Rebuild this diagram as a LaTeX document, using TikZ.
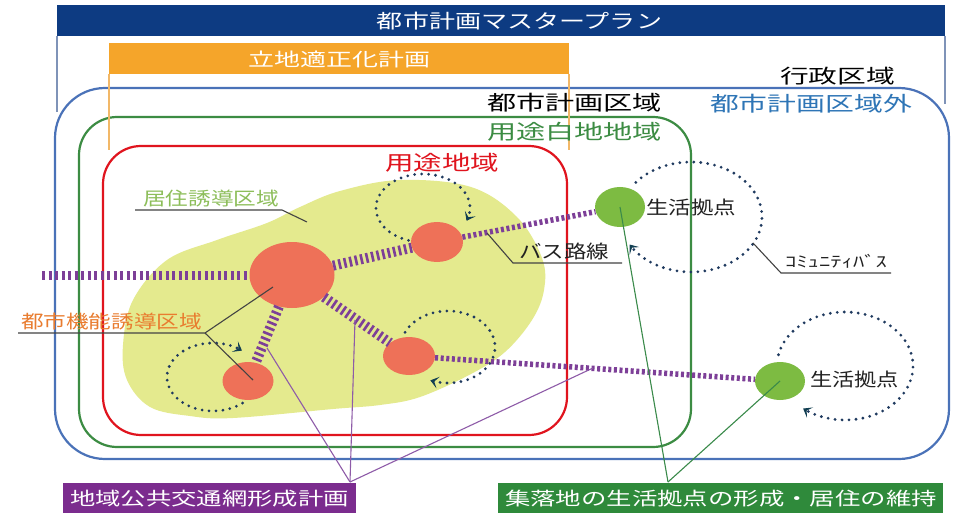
\documentclass[tikz,border=0pt]{standalone}
\usepackage{fontspec}
\usepackage{graphicx}
\newfontfamily\jp{Noto Sans CJK JP}
\usetikzlibrary{shapes.geometric,arrows.meta}
\definecolor{navybar}{HTML}{0D3B82}
\definecolor{orangebar}{HTML}{F5A52A}
\definecolor{orangeline}{HTML}{F2B868}
\definecolor{framecol}{HTML}{7F93B8}
\definecolor{bluerect}{HTML}{4A72B8}
\definecolor{greenrect}{HTML}{3C8C43}
\definecolor{redrect}{HTML}{E0141E}
\definecolor{blobcol}{HTML}{E4EA8E}
\definecolor{hubcol}{HTML}{EE7158}
\definecolor{basecol}{HTML}{7DBB42}
\definecolor{buscol}{HTML}{7D3F98}
\definecolor{dotcol}{HTML}{1F3A5F}
\definecolor{arrcol}{HTML}{123F52}
\definecolor{purplebox}{HTML}{7B2C8E}
\definecolor{greenbox}{HTML}{2F8A3B}
\definecolor{purpleleader}{HTML}{8E5BA8}
\definecolor{greenleader}{HTML}{3A8A4A}
\definecolor{outblue}{HTML}{2E75B6}
\definecolor{livegreen}{HTML}{8DBE5A}
\definecolor{funcorange}{HTML}{E97C2F}
\definecolor{darktext}{HTML}{222222}
\newcommand{\fitt}[3]{\resizebox*{#1}{#2}{\jp #3}}
\begin{document}
\begin{tikzpicture}[x=1pt,y=-1pt,
  hub/.style={ellipse, fill=hubcol, inner sep=0pt, draw=none},
  base/.style={ellipse, fill=basecol, inner sep=0pt, draw=none},
  txt/.style={inner sep=0pt},
  area/.style={line width=2.2pt},
  busA/.style={draw=buscol, line width=9pt, dash pattern=on 3.2pt off 3.3pt},
  busB/.style={draw=buscol, line width=10pt, dash pattern=on 2.6pt off 3pt},
  busC/.style={draw=buscol, line width=5.5pt, dash pattern=on 3pt off 2.6pt},
  dotarc/.style={draw=dotcol, line width=3.1pt, line cap=round, dash pattern=on 0pt off 7pt,
    -{Stealth[length=8pt,width=12pt,inset=4pt,color=arrcol,line cap=butt]}},
  leader/.style={draw=darktext!85, line width=1.1pt},
  pleader/.style={draw=purpleleader, line width=1.1pt},
  gleader/.style={draw=greenleader, line width=1.1pt}]
\useasboundingbox (0,0) rectangle (953,513);
\fill[white] (0,0) rectangle (953,513);

% top bars
\fill[navybar] (57,5) rectangle (945,36);
\node[txt, text=white] (master) at (519.5,21) {\fitt{285pt}{18pt}{都市計画マスタープラン}};
\draw[framecol, line width=1.2pt] (57,36) -- (57,112);
\draw[framecol, line width=1.2pt] (945,36) -- (945,104);

% areas
\draw[bluerect, area, rounded corners=50pt] (55,88) rectangle (949,459);
\draw[greenrect, area, rounded corners=38pt] (79,117) rectangle (691,447);
\draw[redrect, area, rounded corners=38pt] (103,146) rectangle (567,435);

\fill[orangebar] (109,43) rectangle (569,74);
\node[txt, text=white] (ritchi) at (339,59) {\fitt{182pt}{17pt}{立地適正化計画}};
\draw[orangeline, line width=1.2pt] (109,74) -- (109,150);
\draw[orangeline, line width=1.2pt] (569,74) -- (569,150);

% blob
\fill[blobcol] plot[smooth cycle, tension=0.6] coordinates {
 (123,345) (133,300) (167,260) (217,240) (267,223) (300,207) (340,191) (400,180)
 (471,187) (517,217) (542,258) (544,290) (532,320) (505,352) (471,374) (420,397)
 (380,405) (333,409) (233,418) (190,416) (150,407) (127,380)};

% dotted circulation arcs
\draw[dotarc] plot[domain=108:382, samples=90] ({423+47*cos(\x)},{208+34*sin(\x)});
\draw[dotarc] plot[domain=50:309, samples=90] ({213+46*cos(\x)},{377+34*sin(\x)});
\draw[dotarc] plot[domain=204:472, samples=90] ({448+47*cos(\x)},{347+36*sin(\x)});
\draw[dotarc] plot[domain=219:510, samples=110] ({691+71*cos(\x)},{217+55*sin(\x)});
\draw[dotarc] plot[domain=192:488, samples=110] ({845+68*cos(\x)},{366+54*sin(\x)});

% hubs
\node[hub, minimum width=85pt, minimum height=66pt] (big) at (292,275) {};
\node[hub, minimum width=52pt, minimum height=40pt] (up) at (437,242) {};
\node[hub, minimum width=51pt, minimum height=38pt] (ll) at (248,381) {};
\node[hub, minimum width=52pt, minimum height=38pt] (lm) at (409,356) {};
\node[base, minimum width=50pt, minimum height=40pt] (g1) at (620,207) {};
\node[base, minimum width=50pt, minimum height=38pt] (g2) at (780,381) {};

% bus lines
\coordinate (west) at (42,275);
\draw[busA] (west) -- (big);
\draw[busB] (big) -- (up);
\draw[busB] (big) -- (ll);
\draw[busB] (big) -- (lm);
\draw[busC] (up) -- (g1);
\draw[busC] (lm) -- (g2);

% labels with leaders
\node[txt, text=livegreen] (kyoju) at (211,199) {\fitt{136pt}{17pt}{居住誘導区域}};
\coordinate (k1) at (135,210); \coordinate (k2) at (282,210); \coordinate (k3) at (307,222);
\draw[leader] (k1) -- (k2) -- (k3);

\node[txt, text=funcorange] (toshi) at (111.5,322) {\fitt{181pt}{17pt}{都市機能誘導区域}};
\coordinate (f1) at (18,333); \coordinate (f2) at (205,333);
\coordinate (fbig) at (273,287); \coordinate (fll) at (253,380);
\draw[leader] (f1) -- (f2) -- (fbig);
\draw[leader] (f2) -- (fll);

\node[txt, text=darktext] (bus) at (564,251) {\fitt{90pt}{17pt}{バス路線}};
\coordinate (b1) at (622,263); \coordinate (b2) at (513,263); \coordinate (b3) at (487,233);
\draw[leader] (b1) -- (b2) -- (b3);

\node[txt, text=darktext] (comm) at (836,261) {\fitt{102pt}{14pt}{ｺﾐｭﾆﾃｨﾊﾞｽ}};
\coordinate (c1) at (891,273); \coordinate (c2) at (781,273); \coordinate (c3) at (753,243);
\draw[leader] (c1) -- (c2) -- (c3);

\node[txt, text=darktext] (seikatsu1) at (691,207) {\fitt{90pt}{17pt}{生活拠点}};
\node[txt, text=darktext] (seikatsu2) at (854.5,379) {\fitt{89pt}{17pt}{生活拠点}};

% area labels
\node[txt, text=black] (gyosei) at (837.5,76) {\fitt{115pt}{18pt}{行政区域}};
\node[txt, text=black] (toshiku) at (574.5,103) {\fitt{175pt}{19pt}{都市計画区域}};
\node[txt, text=outblue] (toshigai) at (811,104) {\fitt{202pt}{19pt}{都市計画区域外}};
\node[txt, text=greenrect] (hakuchi) at (574.5,132) {\fitt{175pt}{19pt}{用途白地地域}};
\node[txt, text=redrect] (yoto) at (442,163) {\fitt{114pt}{19pt}{用途地域}};

% bottom boxes
\fill[purplebox] (63,483) rectangle (356,513);
\node[txt, text=white] (chiiki) at (209.5,499) {\fitt{279pt}{17pt}{地域公共交通網形成計画}};
\fill[greenbox] (498,483) rectangle (943,513);
\node[txt, text=white] (shuraku) at (721,499) {\fitt{432pt}{17pt}{集落地の生活拠点の形成・居住の維持}};

% box leaders
\coordinate (p0) at (350,482);
\coordinate (p1) at (267,348); \coordinate (p2) at (355,320); \coordinate (p3) at (593,368);
\draw[pleader] (p0) -- (p1);
\draw[pleader] (p0) -- (p2);
\draw[pleader] (p0) -- (p3);
\coordinate (q0) at (668,482);
\draw[gleader] (q0) -- (g1.center);
\draw[gleader] (q0) -- (g2.center);
\end{tikzpicture}
\end{document}
